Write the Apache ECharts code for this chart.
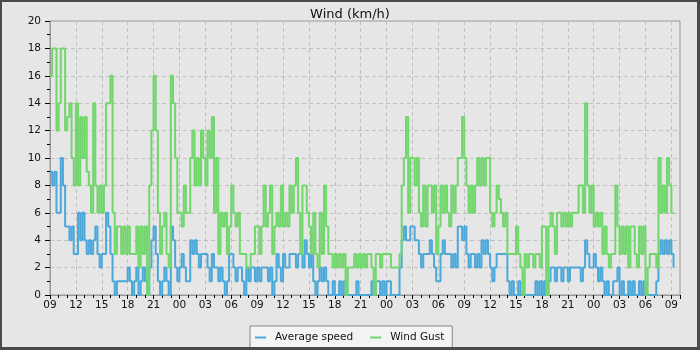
<!DOCTYPE html>
<html>
<head>
<meta charset="utf-8">
<title>Wind (km/h)</title>
<script src="https://cdn.jsdelivr.net/npm/echarts@6/dist/echarts.min.js"></script>
<style>
  html, body { margin: 0; padding: 0; background: #e6e6e6; }
  #main { width: 700px; height: 350px; }
</style>
</head>
<body>
<div id="main"></div>
<script>
// samples every 15 minutes, starting at 09:00 on day 1
const STEP_H = 0.25;

// one label every 3 hours along the x axis
const tickLabels = ['09', '12', '15', '18', '21', '00', '03', '06',
  '09', '12', '15', '18', '21', '00', '03', '06',
  '09', '12', '15', '18', '21', '00', '03', '06', '09'];

const avgSpeed = [
  9,8,9,6, 6,10,8,5, 5,4,5,3, 3,6,4,6,
  4,3,4,3, 4,5,3,2, 3,3,6,5, 3,1,0,1,
  1,1,1,1, 2,1,0,1, 2,0,1,2, 1,0,2,4,
  5,3,1,0, 1,2,1,0, 5,4,2,1, 2,3,2,1,
  1,4,3,4, 3,2,3,3, 3,2,1,3, 2,2,1,2,
  1,0,1,3, 3,2,1,2, 2,1,0,2, 1,2,2,1,
  2,1,2,2, 2,1,2,0, 1,3,2,1, 3,2,2,3,
  3,3,2,3, 3,2,4,3, 2,3,1,0, 1,2,1,2,
  1,0,0,1, 0,0,1,0, 1,0,0,0, 0,0,1,0,
  0,0,0,0, 0,1,0,1, 1,0,1,0, 1,1,0,0,
  0,0,2,4, 5,4,4,5, 5,4,4,3, 2,3,3,3,
  4,3,2,1, 1,3,4,3, 3,3,2,3, 2,5,5,4,
  5,3,2,3, 3,2,3,2, 4,3,4,3, 2,1,2,3,
  3,3,3,3, 1,0,1,0, 0,1,0,0, 0,0,0,0,
  0,1,0,1, 0,1,0,1, 2,2,1,2, 2,1,2,2,
  1,2,2,2, 2,2,1,2, 4,3,2,2, 3,2,1,2,
  1,0,1,0, 0,1,1,2, 0,1,0,0, 1,0,1,0,
  0,1,0,1, 0,0,0,0, 0,1,3,4, 3,4,3,4,
  3,2
];

const windGust = [
  16,18,18,12, 14,18,18,12, 13,14,10,8, 14,8,13,10,
  13,9,8,6, 14,8,6,8, 6,8,14,14, 16,6,3,5,
  5,3,5,3, 5,3,3,3, 5,2,5,3, 5,0,8,12,
  16,12,6,3, 5,6,3,2, 16,14,10,6, 6,5,8,6,
  6,10,12,8, 10,8,12,10, 8,12,10,13, 6,10,3,6,
  5,6,3,5, 8,6,5,6, 3,3,3,2, 2,3,3,5,
  5,3,5,8, 5,6,8,3, 5,6,5,8, 5,6,5,8,
  6,8,10,6, 3,8,8,6, 5,3,6,3, 2,6,3,8,
  5,3,3,2, 3,2,3,2, 3,0,2,2, 2,3,2,3,
  2,3,2,3, 3,2,0,3, 3,2,3,3, 3,3,2,2,
  2,2,3,8, 10,13,6,10, 10,8,10,6, 5,8,5,8,
  8,6,8,3, 5,8,6,8, 6,5,8,6, 8,10,10,13,
  10,8,6,8, 6,8,10,8, 10,8,10,10, 6,5,6,8,
  7,6,5,6, 3,3,3,3, 5,3,2,0, 3,2,3,3,
  2,3,3,2, 5,5,0,5, 6,5,3,6, 6,5,6,5,
  6,5,6,6, 6,8,8,6, 14,8,6,8, 5,6,5,6,
  3,5,3,2, 3,3,8,5, 3,5,3,5, 2,5,5,3,
  2,5,3,5, 0,2,3,3, 3,2,10,6, 8,6,10,8,
  6,6
];

function toPoints(values) {
  return values.map(function (v, i) { return [i * STEP_H, v]; });
}

function getWindOption() {
  const font = 'DejaVu Sans';
  const frame = '#4a4a4a';
  return {
    backgroundColor: '#e6e6e6',
    animation: false,
    textStyle: { fontFamily: font },
    title: {
      text: 'Wind (km/h)',
      left: 'center',
      top: 3,
      textStyle: { fontSize: 13, fontWeight: 'normal', color: '#111', fontFamily: font }
    },
    legend: {
      left: 250,
      top: 326,
      data: ['Average speed', 'Wind Gust'],
      backgroundColor: '#f4f4f4',
      borderColor: '#888',
      borderWidth: 1,
      padding: [6, 8, 8, 5],
      itemGap: 17,
      itemWidth: 11,
      itemHeight: 2,
      icon: 'rect',
      textStyle: { fontSize: 10.5, color: '#111', fontFamily: font, padding: [0, 0, 0, 4] }
    },
    grid: {
      left: 50,
      right: 20,
      top: 21,
      bottom: 55,
      show: true,
      borderColor: '#999',
      borderWidth: 1,
      backgroundColor: 'transparent'
    },
    xAxis: {
      type: 'value',
      min: 0,
      max: 73,
      interval: 3,
      axisLine: { show: true, lineStyle: { color: '#999' } },
      axisTick: { show: true, length: 4, lineStyle: { color: '#000' } },
      minorTick: { show: true, splitNumber: 3, length: 3, lineStyle: { color: '#000' } },
      axisLabel: {
        margin: 5,
        fontSize: 10.5,
        color: '#111',
        fontFamily: font,
        formatter: function (v) {
          return v % 3 === 0 && tickLabels[v / 3] ? tickLabels[v / 3] : '';
        }
      },
      splitLine: { show: true, lineStyle: { color: '#c0c0c0', type: [4, 3] } }
    },
    yAxis: {
      type: 'value',
      min: 0,
      max: 20,
      interval: 2,
      axisLine: { show: true, lineStyle: { color: '#999' } },
      axisTick: { show: true, length: 5, lineStyle: { color: '#000' } },
      minorTick: { show: true, splitNumber: 2, length: 3, lineStyle: { color: '#000' } },
      axisLabel: { margin: 9, fontSize: 10.5, color: '#111', fontFamily: font },
      splitLine: { show: true, lineStyle: { color: '#c0c0c0', type: [4, 3] } }
    },
    series: [
      {
        name: 'Average speed',
        type: 'line',
        step: 'end',
        symbol: 'none',
        data: toPoints(avgSpeed),
        lineStyle: { color: '#4da8da', width: 2 },
        itemStyle: { color: '#4da8da' }
      },
      {
        name: 'Wind Gust',
        type: 'line',
        step: 'end',
        symbol: 'none',
        data: toPoints(windGust),
        lineStyle: { color: '#71d66c', width: 2 },
        itemStyle: { color: '#71d66c' }
      }
    ],
    // dark frame round the whole picture
    graphic: [
      { type: 'rect', z: 100, shape: { x: 0, y: 0, width: 700, height: 2 }, style: { fill: frame } },
      { type: 'rect', z: 100, shape: { x: 0, y: 0, width: 2, height: 350 }, style: { fill: frame } },
      { type: 'rect', z: 100, shape: { x: 697, y: 0, width: 3, height: 350 }, style: { fill: frame } },
      { type: 'rect', z: 100, shape: { x: 0, y: 347, width: 700, height: 3 }, style: { fill: frame } }
    ]
  };
}

const chart = echarts.init(document.getElementById('main'));
chart.setOption(getWindOption());
</script>
</body>
</html>
